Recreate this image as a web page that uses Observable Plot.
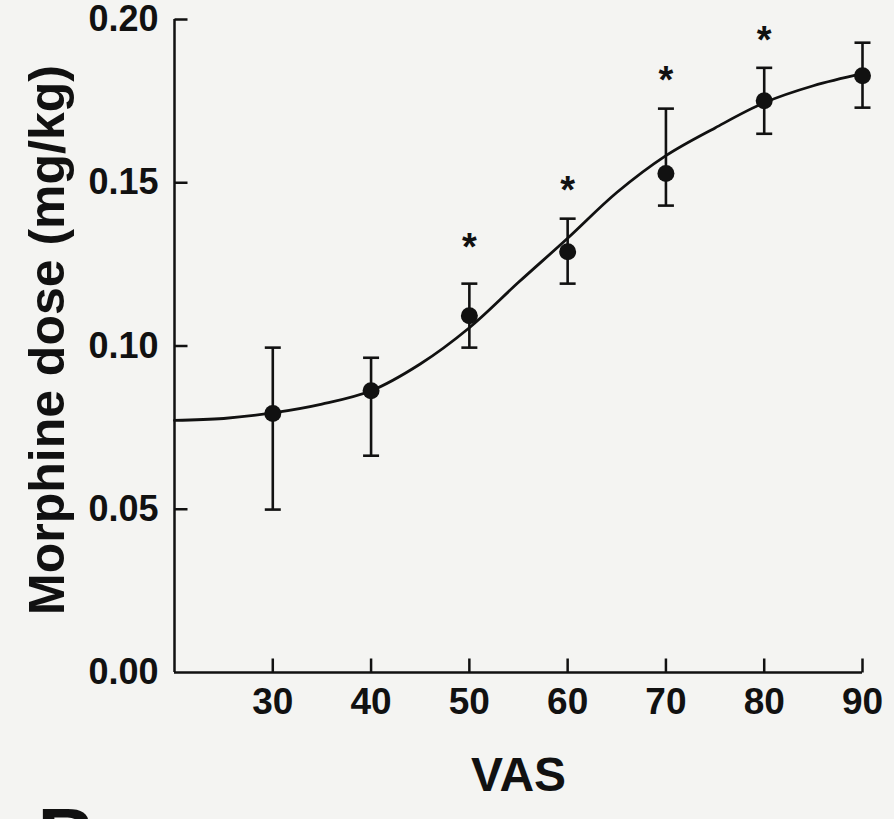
<!DOCTYPE html>
<html>
<head>
<meta charset="utf-8">
<script src="https://cdn.jsdelivr.net/npm/d3@7"></script>
<script src="https://cdn.jsdelivr.net/npm/@observablehq/plot@0.6"></script>
<style>
  html, body { margin: 0; padding: 0; background: #f4f4f2; }
  #chart svg { display: block; }
</style>
</head>
<body>
<div id="chart"></div>
<script>
// VAS levels and mean morphine dose (mg/kg) with error-bar ends
const vas      = [30, 40, 50, 60, 70, 80, 90];
const dose     = [0.0793, 0.0863, 0.1093, 0.1289, 0.1528, 0.1751, 0.1828];
const errHigh  = [0.0995, 0.0964, 0.1191, 0.1390, 0.1727, 0.1852, 0.1929];
const errLow   = [0.0499, 0.0664, 0.0995, 0.1191, 0.1430, 0.1650, 0.1730];

// significance asterisks
const starVas  = [50, 60, 70, 80];
const starY    = [0.1332, 0.1506, 0.1843, 0.1966];

// fitted curve
const curveVas  = [20, 25, 30, 35, 40, 45, 50, 55, 60, 65, 70, 75, 80, 85, 90];
const curveDose = [0.0772, 0.0778, 0.0795, 0.0822, 0.0863, 0.0945, 0.1056, 0.1195, 0.1330, 0.1470, 0.1583, 0.1668, 0.1745, 0.1797, 0.1834];

// axis ticks
const xTicks = [30, 40, 50, 60, 70, 80, 90];
const yTicks = [0, 0.05, 0.10, 0.15, 0.20];

const points = vas.map((v, i) => ({x: v, y: dose[i], lo: errLow[i], hi: errHigh[i]}));
const stars  = starVas.map((v, i) => ({x: v, y: starY[i]}));
const curve  = curveVas.map((v, i) => ({x: v, y: curveDose[i]}));

const ink = "#111";
const font = "'Liberation Sans', Arial, Helvetica, sans-serif";

const capSymbol = {draw(c, s) { const r = Math.sqrt(s / Math.PI); c.moveTo(-r, 0); c.lineTo(r, 0); }};
const tickRight = {draw(c, s) { const r = Math.sqrt(s / Math.PI); c.moveTo(0, 0); c.lineTo(r, 0); }};
const tickUp    = {draw(c, s) { const r = Math.sqrt(s / Math.PI); c.moveTo(0, 0); c.lineTo(0, -r); }};

const chart = Plot.plot({
  width: 894,
  height: 819,
  marginTop: 19,
  marginBottom: 147,
  marginLeft: 174,
  marginRight: 32,
  style: {background: "#f4f4f2", color: ink, fontFamily: font, overflow: "visible"},
  x: {domain: [20, 90]},
  y: {domain: [0, 0.2]},
  marks: [
    Plot.axisY(yTicks, {tickSize: 0, tickPadding: 16, tickFormat: d3.format(".2f"), fontSize: 36, fontWeight: "bold", label: null}),
    Plot.axisX(xTicks, {tickSize: 0, tickPadding: 15, fontSize: 37, fontWeight: "bold", label: null}),
    Plot.ruleX([20], {stroke: ink, strokeWidth: 2.5}),
    Plot.ruleY([0], {stroke: ink, strokeWidth: 2.5}),
    Plot.dot(yTicks.filter(d => d > 0), {y: d => d, frameAnchor: "left", symbol: tickRight, r: 13, fill: "none", stroke: ink, strokeWidth: 2.5}),
    Plot.dot(xTicks, {x: d => d, frameAnchor: "bottom", symbol: tickUp, r: 14, fill: "none", stroke: ink, strokeWidth: 2.5}),
    Plot.line(curve, {x: "x", y: "y", curve: "catmull-rom", stroke: ink, strokeWidth: 2.8}),
    Plot.ruleX(points, {x: "x", y1: "lo", y2: "hi", stroke: ink, strokeWidth: 2.6}),
    Plot.dot(points, {x: "x", y: "hi", symbol: capSymbol, r: 8, fill: "none", stroke: ink, strokeWidth: 2.6}),
    Plot.dot(points, {x: "x", y: "lo", symbol: capSymbol, r: 8, fill: "none", stroke: ink, strokeWidth: 2.6}),
    Plot.dot(points, {x: "x", y: "y", r: 8.5, fill: ink, stroke: "none"}),
    Plot.text(stars, {x: "x", y: "y", text: () => "*", fontSize: 38, fontWeight: "bold", dy: 10, fill: ink}),
    Plot.text(["Morphine dose (mg/kg)"], {frameAnchor: "left", textAnchor: "middle", lineAnchor: "middle", rotate: -90, dx: -127, dy: -6, fontSize: 50, fontWeight: "bold", fill: ink}),
    Plot.text(["VAS"], {frameAnchor: "bottom", textAnchor: "middle", lineAnchor: "middle", dy: 103, fontSize: 48, fontWeight: "bold", fill: ink}),
    Plot.text(["B"], {frameAnchor: "bottom-left", textAnchor: "start", lineAnchor: "middle", dx: -137, dy: 166, fontSize: 80, fontWeight: "bold", fill: ink})
  ]
});
document.getElementById("chart").appendChild(chart);
</script>
</body>
</html>
